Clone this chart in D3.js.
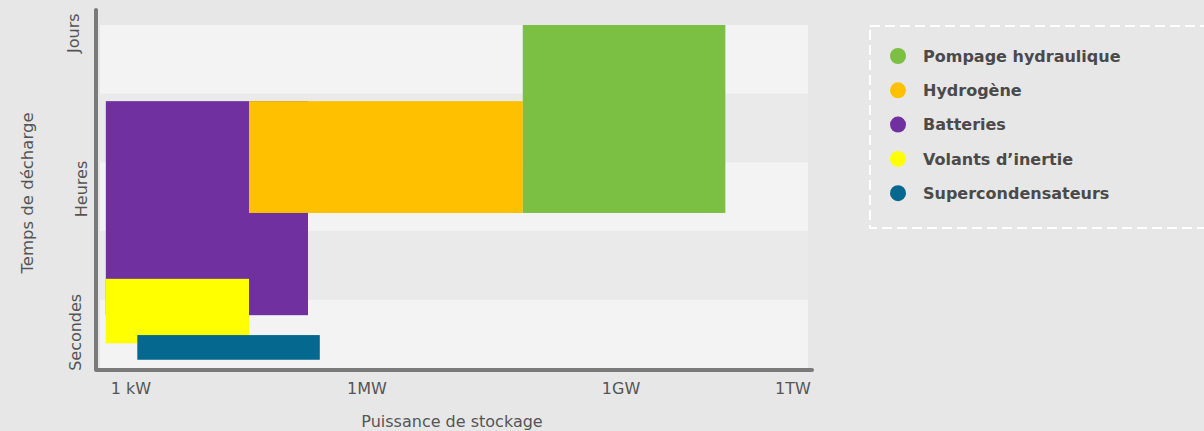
<!DOCTYPE html>
<html>
<head>
<meta charset="utf-8">
<script src="https://cdn.jsdelivr.net/npm/d3@7"></script>
<style>
  body { margin: 0; background: #e7e7e7; }
  svg { display: block; font-family: "DejaVu Sans", "Open Sans", sans-serif; }
</style>
</head>
<body>
<div id="chart"></div>
<script>
// categories, in draw order (later ones sit on top)
const techs = ["Batteries", "Hydrogène", "Pompage hydraulique", "Volants d’inertie", "Supercondensateurs"]
const techColors = ["#7030a0", "#ffc000", "#7bc043", "#ffff00", "#05698f"]
// power range, log10 of watts
const powerMin = [2.68, 4.50, 7.84, 2.68, 3.08]
const powerMax = [5.25, 7.84, 10.82, 4.50, 5.40]
// discharge time, in band units (0 = bottom, 5 = top)
const timeMin = [0.77, 2.26, 2.26, 0.36, 0.12]
const timeMax = [3.89, 3.89, 5.00, 1.30, 0.48]

const legendOrder = ["Pompage hydraulique", "Hydrogène", "Batteries", "Volants d’inertie", "Supercondensateurs"]

const xTicks = [3, 6, 9, 12]
const xTickLabels = ["1 kW", "1MW", "1GW", "1TW"]
const yTicks = [0.52, 2.61, 4.88]
const yTickLabels = ["Secondes", "Heures", "Jours"]
const bands = [0, 1, 2, 3, 4]

const width = 1204
const height = 431

const svg = d3.select("#chart").append("svg")
    .attr("width", width)
    .attr("height", height)

// x is log10 power, the picture's decades are not evenly spaced
const x = d3.scaleLinear().domain([3, 6, 9, 12]).range([131, 367, 621, 793])
const y = d3.scaleLinear().domain([0, 5]).range([368, 25])

const plotLeft = 100, plotRight = 808

// background bands
svg.append("g")
    .selectAll("rect")
    .data(bands)
    .join("rect")
    .attr("x", plotLeft)
    .attr("width", plotRight - plotLeft)
    .attr("y", d => y(d + 1))
    .attr("height", d => y(d) - y(d + 1))
    .attr("fill", d => d % 2 == 0 ? "#f3f3f3" : "#eaeaea")

// storage boxes
const rows = techs.map((t, i) => ({ name: t, color: techColors[i], x0: powerMin[i], x1: powerMax[i], y0: timeMin[i], y1: timeMax[i] }))
svg.append("g")
    .selectAll("rect")
    .data(rows)
    .join("rect")
    .attr("x", d => x(d.x0))
    .attr("width", d => x(d.x1) - x(d.x0))
    .attr("y", d => y(d.y1))
    .attr("height", d => y(d.y0) - y(d.y1))
    .attr("fill", d => d.color)

// axis lines
svg.append("path")
    .attr("d", `M96,10 V370 H812`)
    .attr("fill", "none")
    .attr("stroke", "#7a7a7a")
    .attr("stroke-width", 4)
    .attr("stroke-linecap", "round")
    .attr("stroke-linejoin", "round")

// x tick labels
svg.append("g")
    .selectAll("text")
    .data(xTicks)
    .join("text")
    .attr("x", d => x(d))
    .attr("y", 394)
    .attr("text-anchor", "middle")
    .attr("font-size", 16)
    .attr("fill", "#555")
    .text((d, i) => xTickLabels[i])

// y tick labels (rotated)
const yOffsets = [81, 87, 79]
svg.append("g")
    .selectAll("text")
    .data(yTicks)
    .join("text")
    .attr("transform", (d, i) => `translate(${yOffsets[i]},${y(d)}) rotate(-90)`)
    .attr("text-anchor", "middle")
    .attr("font-size", 16)
    .attr("fill", "#555")
    .text((d, i) => yTickLabels[i])

// axis titles
svg.append("text")
    .attr("x", 452)
    .attr("y", 427)
    .attr("text-anchor", "middle")
    .attr("font-size", 16)
    .attr("fill", "#555")
    .text("Puissance de stockage")

svg.append("text")
    .attr("transform", "translate(33,193) rotate(-90)")
    .attr("text-anchor", "middle")
    .attr("font-size", 16.5)
    .attr("fill", "#555")
    .text("Temps de décharge")

// legend
svg.append("rect")
    .attr("x", 870)
    .attr("y", 26)
    .attr("width", 360)
    .attr("height", 202)
    .attr("fill", "none")
    .attr("stroke", "#ffffff")
    .attr("stroke-width", 2)
    .attr("stroke-dasharray", "10,5")

const lg = svg.append("g")
    .selectAll("g")
    .data(legendOrder)
    .join("g")
    .attr("transform", (d, i) => `translate(898,${56 + i * 34.3})`)

lg.append("circle")
    .attr("r", 8)
    .attr("fill", d => techColors[techs.indexOf(d)])

lg.append("text")
    .attr("x", 25)
    .attr("dy", "0.35em")
    .attr("font-size", 16)
    .attr("font-weight", "bold")
    .attr("fill", "#4a4a4a")
    .text(d => d)
</script>
</body>
</html>
